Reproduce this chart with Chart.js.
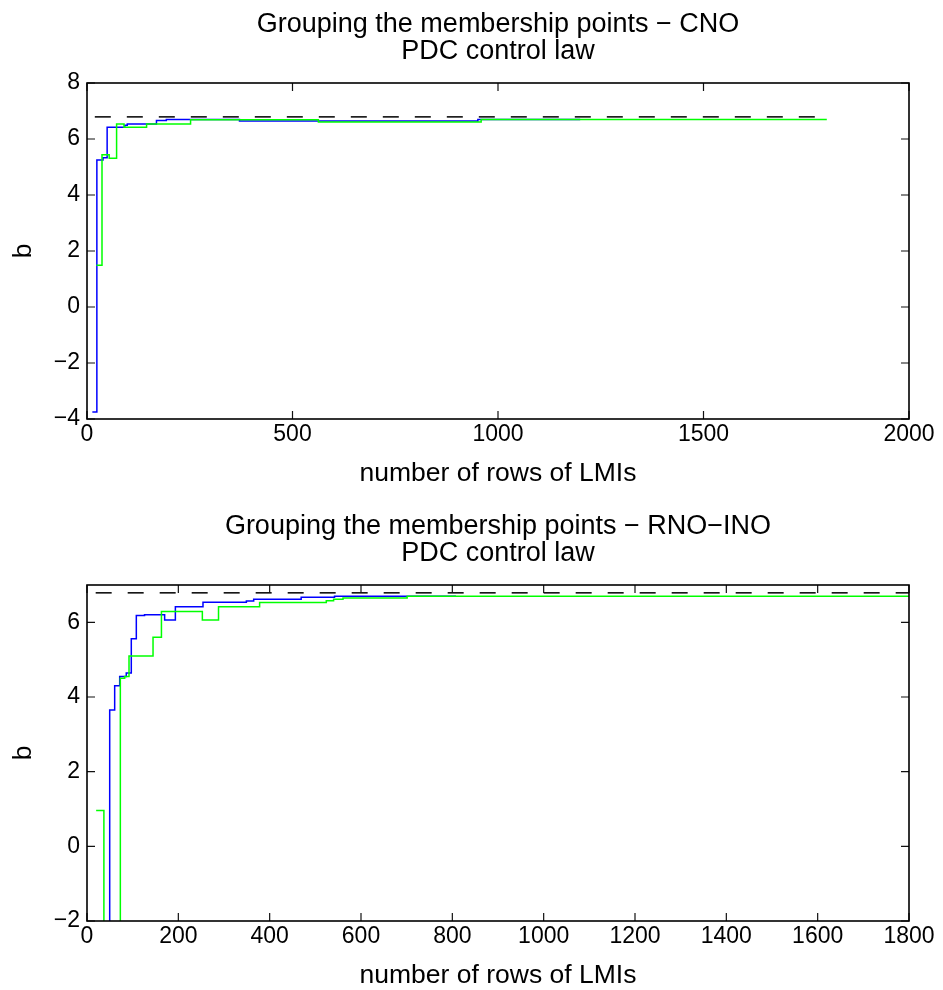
<!DOCTYPE html>
<html>
<head>
<meta charset="utf-8">
<script src="https://cdn.jsdelivr.net/npm/chart.js@4.4.1/dist/chart.umd.min.js"></script>
<style>
  html, body { margin: 0; padding: 0; background: #fff; overflow: hidden; }
  canvas { display: block; }
</style>
</head>
<body>
<canvas id="cno" width="943" height="502"></canvas>
<canvas id="rno" width="943" height="502"></canvas>
<script>
// --- top panel (CNO) ---
const cnoXTicks = [0, 500, 1000, 1500, 2000];
const cnoYTicks = [-4, -2, 0, 2, 4, 6, 8];
const cnoBlueX = [13, 24, 39, 49, 92, 98, 169, 193, 371, 951, 1200];
const cnoBlueY = [-3.75, 5.25, 5.33, 6.42, 6.49, 6.54, 6.66, 6.7, 6.64, 6.7, 6.7];
const cnoGreenX = [23, 36.5, 54, 72, 90, 145, 252, 563, 959, 1800];
const cnoGreenY = [1.49, 5.44, 5.31, 6.54, 6.42, 6.54, 6.69, 6.61, 6.7, 6.7];
const cnoBoundX = [19, 1800];
const cnoBoundY = [6.79, 6.79];

// --- bottom panel (RNO-INO) ---
const rnoXTicks = [0, 200, 400, 600, 800, 1000, 1200, 1400, 1600, 1800];
const rnoYTicks = [-2, 0, 2, 4, 6];
const rnoBlueX = [30, 49.7, 60.6, 71.6, 86, 97, 108, 126, 170, 193.5, 254, 349, 365, 469, 542, 808];
const rnoBlueY = [-8, 3.65, 4.3, 4.55, 4.64, 5.56, 6.18, 6.2, 6.06, 6.42, 6.54, 6.57, 6.62, 6.67, 6.7, 6.7];
const rnoGreenX = [20, 37, 73, 82.5, 92, 144.6, 163, 252.6, 288, 378, 524, 540, 560.6, 701, 1800];
const rnoGreenY = [0.96, -8, 4.5, 4.55, 5.1, 5.6, 6.29, 6.06, 6.42, 6.53, 6.58, 6.62, 6.65, 6.7, 6.7];
const rnoBoundX = [19, 1800];
const rnoBoundY = [6.79, 6.79];

const FONT = "'Liberation Sans', Arial, Helvetica, sans-serif";
const TICK_LEN = 8;

function toPoints(xs, ys) {
  return xs.map((x, i) => ({ x, y: ys[i] }));
}

function minus(v) {
  return String(v).replace("-", "\u2212");
}

// matlab style box with inward ticks on all four sides
const matlabBox = {
  id: "matlabBox",
  afterDatasetsDraw(chart) {
    const { ctx, chartArea: a, scales } = chart;
    ctx.save();
    ctx.strokeStyle = "#111";
    ctx.lineWidth = 1.2;
    ctx.beginPath();
    scales.x.ticks.forEach((t) => {
      const px = scales.x.getPixelForValue(t.value);
      ctx.moveTo(px, a.bottom);
      ctx.lineTo(px, a.bottom - TICK_LEN);
      ctx.moveTo(px, a.top);
      ctx.lineTo(px, a.top + TICK_LEN);
    });
    scales.y.ticks.forEach((t) => {
      const py = scales.y.getPixelForValue(t.value);
      ctx.moveTo(a.left, py);
      ctx.lineTo(a.left + TICK_LEN, py);
      ctx.moveTo(a.right, py);
      ctx.lineTo(a.right - TICK_LEN, py);
    });
    ctx.stroke();
    ctx.strokeStyle = "#000";
    ctx.lineWidth = 1.6;
    ctx.strokeRect(a.left, a.top, a.width, a.height);
    ctx.restore();
  },
};

function renderPanel(canvasId, title, xMax, xTicks, yMin, yMax, yTicks, blue, green, bound) {
  const ctx = document.getElementById(canvasId).getContext("2d");
  const line = (data, color, dash) => ({
    data,
    borderColor: color,
    borderWidth: 1.5,
    borderDash: dash || [],
    pointRadius: 0,
    fill: false,
    stepped: !dash,
  });
  return new Chart(ctx, {
    type: "line",
    data: {
      // first dataset is drawn on top
      datasets: [line(bound, "#000", [16, 16]), line(green, "#00ff00"), line(blue, "#0000ff")],
    },
    options: {
      responsive: false,
      animation: false,
      devicePixelRatio: 1,
      layout: { padding: { left: 0, right: 34, top: 0, bottom: 0 } },
      plugins: {
        legend: { display: false },
        tooltip: { enabled: false },
        title: {
          display: true,
          fullSize: false, // centre over the plot box, like matlab
          text: title,
          color: "#000",
          font: { family: FONT, size: 27, weight: "normal", lineHeight: 1.0 },
          padding: { top: 11.5, bottom: 17.5 },
        },
      },
      scales: {
        x: {
          type: "linear",
          min: 0,
          max: xMax,
          afterBuildTicks: (s) => { s.ticks = xTicks.map((v) => ({ value: v })); },
          afterFit: (s) => { s.height = 83; },
          grid: { display: false, drawTicks: false },
          border: { display: false },
          ticks: {
            color: "#000",
            padding: 2,
            autoSkip: false,
            maxRotation: 0,
            font: { family: FONT, size: 23, lineHeight: 1.2 },
            callback: (v) => minus(v),
          },
          title: {
            display: true,
            text: "number of rows of LMIs",
            color: "#000",
            font: { family: FONT, size: 26.5, lineHeight: 1.2 },
            padding: { top: 0, bottom: 12 },
          },
        },
        y: {
          type: "linear",
          min: yMin,
          max: yMax,
          afterBuildTicks: (s) => { s.ticks = yTicks.map((v) => ({ value: v })); },
          afterFit: (s) => { s.width = 87; },
          grid: { display: false, drawTicks: false },
          border: { display: false },
          ticks: {
            color: "#000",
            padding: 7,
            font: { family: FONT, size: 23, lineHeight: 1.2 },
            callback: (v) => minus(v),
          },
          title: {
            display: true,
            text: "b",
            color: "#000",
            font: { family: FONT, size: 26.5, lineHeight: 1.2 },
            padding: { top: 8, bottom: 0 },
          },
        },
      },
    },
    plugins: [matlabBox],
  });
}

document.addEventListener("DOMContentLoaded", () => {
  renderPanel(
    "cno",
    ["Grouping the membership points \u2212 CNO", "PDC control law"],
    2000, cnoXTicks, -4, 8, cnoYTicks,
    toPoints(cnoBlueX, cnoBlueY),
    toPoints(cnoGreenX, cnoGreenY),
    toPoints(cnoBoundX, cnoBoundY)
  );
  renderPanel(
    "rno",
    ["Grouping the membership points \u2212 RNO\u2212INO", "PDC control law"],
    1800, rnoXTicks, -2, 7, rnoYTicks,
    toPoints(rnoBlueX, rnoBlueY),
    toPoints(rnoGreenX, rnoGreenY),
    toPoints(rnoBoundX, rnoBoundY)
  );
});
</script>
</body>
</html>
